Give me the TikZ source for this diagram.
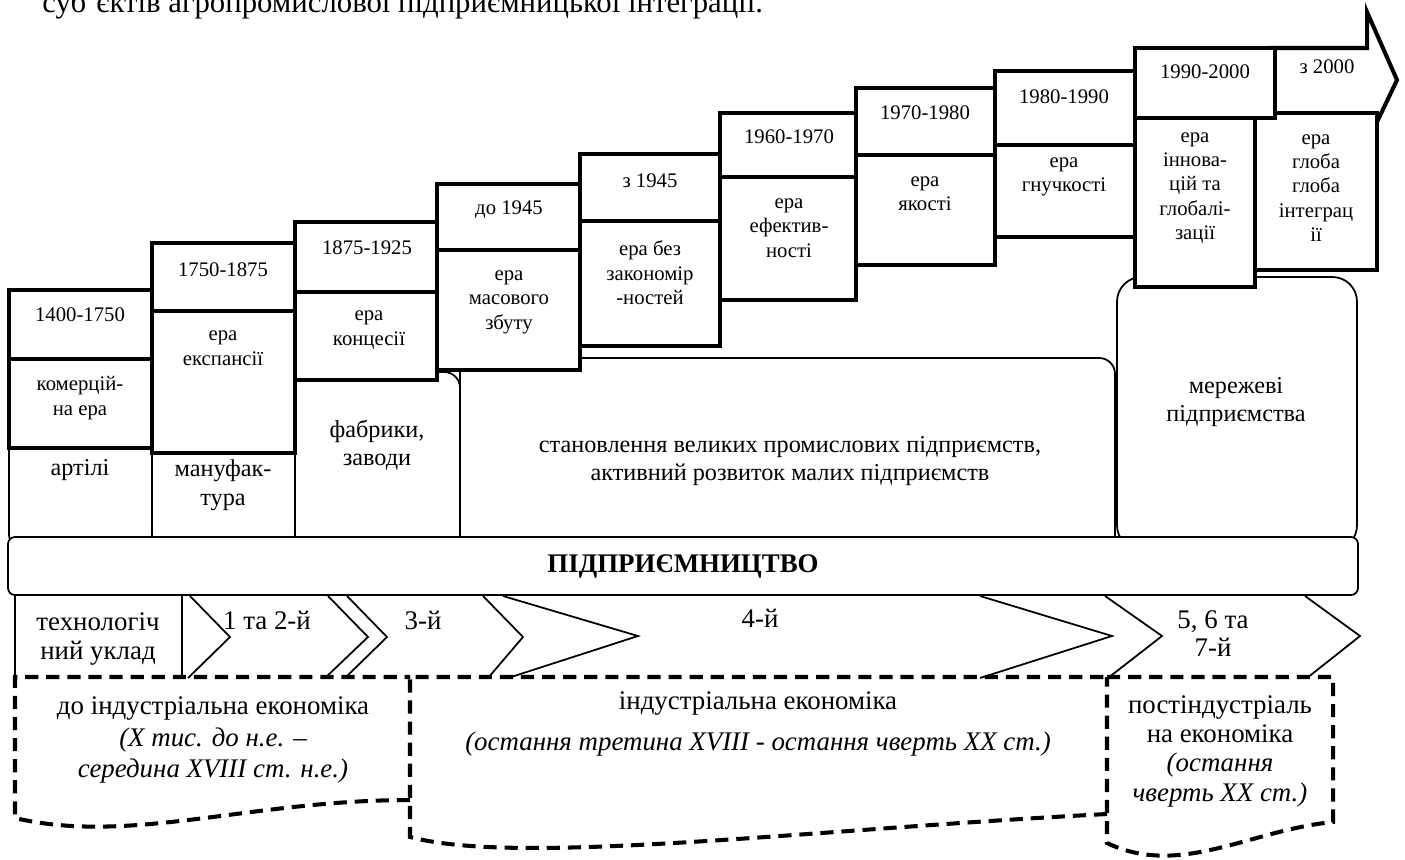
\documentclass[tikz,border=0pt]{standalone}
\usepackage{fontspec}
\setmainfont{Liberation Serif}
\tikzset{
  thickbox/.style={draw, line width=2.3pt, fill=white},
  thinbox/.style={draw, line width=1pt, fill=white, rounded corners=9pt},
  chev/.style={draw, line width=1pt},
  dashbox/.style={draw, line width=2.3pt, dash pattern=on 7.5pt off 4.5pt},
  upper/.style={font=\fontsize{11.8}{13.9}\selectfont, align=center, inner sep=0pt},
  lower/.style={font=\fontsize{13.8}{16.2}\selectfont, align=center, inner sep=0pt},
  bottom/.style={font=\fontsize{15.3}{16}\selectfont, align=center, inner sep=0pt},
  barlabel/.style={font=\fontsize{15.3}{16}\selectfont\bfseries, inner sep=0pt},
}
\begin{document}
\begin{tikzpicture}[x=0.02cm, y=-0.02cm]
		\useasboundingbox (0,0) rectangle (1405,859);
		\fill[white] (0,0) rectangle (1405,859);
		\clip (0,0) rectangle (1405,859);
		\node[anchor=base west, inner sep=0pt, font=\fontsize{17.5}{20}\selectfont] (Title) at (42,12) {суб’єктів агропромислової підприємницької інтеграції.};
		% Enterprises
		\draw[thinbox] (9,420) rectangle (152,550);
		\draw[thinbox] (152,420) rectangle (295,550);
		\draw[thinbox] (295,372) rectangle (460,550);
		\draw[thinbox] (460,358) rectangle (1115,550);
		\draw[thinbox, rounded corners=14pt] (1117,277) rectangle (1357,550);
		\node[lower] (Artili) at (80,470) {артілі};
		\node[lower] (Manufaktura) at (223,485) {мануфак-\\тура};
		\node[lower] (Fabryky) at (377,445) {фабрики,\\заводи};
		\node[lower] (Stanovlennia) at (790,461) {становлення великих промислових підприємств,\\активний розвиток малих підприємств};
		\node[lower] (Merezhevi) at (1236,402) {мережеві\\підприємства};
		% Eras
		\draw[thickbox] (9,359) rectangle (152,448);
		\draw[thickbox] (9,290) rectangle (152,359);
		\node[upper] (Year 1) at (80,315) {1400-1750};
		\node[upper] (Era 1) at (80,398) {комерцій-\\на ера};
		\draw[thickbox] (152,311) rectangle (295,453);
		\draw[thickbox] (152,243) rectangle (295,311);
		\node[upper] (Year 2) at (223,270) {1750-1875};
		\node[upper] (Era 2) at (223,348) {ера\\експансії};
		\draw[thickbox] (295,292) rectangle (437,380);
		\draw[thickbox] (295,222) rectangle (437,292);
		\node[upper] (Year 3) at (367,248) {1875-1925};
		\node[upper] (Era 3) at (369,330) {ера\\концесії};
		\draw[thickbox] (437,250) rectangle (580,370);
		\draw[thickbox] (437,184) rectangle (580,250);
		\node[upper] (Year 4) at (509,210) {до 1945};
		\node[upper] (Era 4) at (509,302) {ера\\масового\\збуту};
		\draw[thickbox] (580,221) rectangle (720,346);
		\draw[thickbox] (580,154) rectangle (720,221);
		\node[upper] (Year 5) at (650,181) {з 1945};
		\node[upper] (Era 5) at (650,273) {ера без\\закономір\\-ностей};
		\draw[thickbox] (720,177) rectangle (856,300);
		\draw[thickbox] (720,113) rectangle (856,177);
		\node[upper] (Year 6) at (789,137) {1960-1970};
		\node[upper] (Era 6) at (789,228) {ера\\ефектив-\\ності};
		\draw[thickbox] (856,155) rectangle (995,265);
		\draw[thickbox] (856,88) rectangle (995,155);
		\node[upper] (Year 7) at (925,113) {1970-1980};
		\node[upper] (Era 7) at (925,194) {ера\\якості};
		\draw[thickbox] (995,145) rectangle (1135,237);
		\draw[thickbox] (995,71) rectangle (1135,145);
		\node[upper] (Year 8) at (1064,97) {1980-1990};
		\node[upper] (Era 8) at (1064,177) {ера\\гнучкості};
		\draw[thickbox] (1270,48) -- (1367,48) -- (1367,12) -- (1397,80) -- (1377,122) -- (1270,122) -- cycle;
		\draw[thickbox] (1255,113) rectangle (1377,270);
		\draw[thickbox] (1135,48) rectangle (1275,118);
		\draw[thickbox] (1135,118) rectangle (1255,287);
		\node[upper] (Year 9) at (1205,72) {1990-2000};
		\node[upper] (Era 9) at (1195,188) {ера\\іннова-\\цій та\\глобалі-\\зації};
		\node[upper] (Year 10) at (1327,67) {з 2000};
		\node[upper] (Era 10) at (1316,188) {ера\\глоба\\глоба\\інтеграц\\ії};
		% Bar
		\draw[draw, line width=1pt, fill=white, rounded corners=4pt] (8,537) rectangle (1358,595);
		\node[barlabel] (Pidpryiemnytstvo) at (683,566) {ПІДПРИЄМНИЦТВО};
		% Technological modes
		\draw[chev] (15,595) -- (15,678);
		\draw[chev] (182,595) -- (182,678);
		\node[bottom] (Uklad) at (98,639) {технологіч\\ний уклад};
		\draw[chev] (190,596) -- (230,637) -- (188,678);
		\draw[chev] (328,596) -- (368,637) -- (325,678);
		\draw[chev] (347,596) -- (387,637) -- (345,678);
		\draw[chev] (483,596) -- (523,637) -- (488,678);
		\draw[chev] (503,596) -- (638,636) -- (508,678);
		\draw[chev] (980,596) -- (1112,636) -- (980,678);
		\draw[chev] (1105,596) -- (1162,636) -- (1108,678);
		\draw[chev] (1305,596) -- (1360,636) -- (1307,678);
		\node[bottom] (Mode 1) at (267,620) {1 та 2-й};
		\node[bottom] (Mode 2) at (423,620) {3-й};
		\node[bottom] (Mode 3) at (760,618) {4-й};
		\node[bottom] (Mode 4) at (1213,634) {5, 6 та\\7-й};
		% Economies
		\draw[dashbox] (410,800) .. controls (250,800) and (130,845) .. (15,818) -- (15,677) -- (410,677);
		\draw[dashbox] (1107,814) .. controls (800,830) and (520,866) .. (410,837) -- (410,677) -- (1107,677);
		\draw[dashbox] (1107,677) -- (1333,677) -- (1333,822) .. controls (1250,830) and (1180,878) .. (1107,843) -- cycle;
		\node[bottom] (Pre) at (213,740) {до індустріальна економіка\\[2pt]\itshape (X тис. до н.е. –\\[2pt]\itshape середина XVIII ст. н.е.)};
		\node[bottom] (Industrial) at (758,724) {індустріальна економіка\\[7.8pt]\itshape (остання третина XVIII - остання чверть XX ст.)};
		\node[bottom] (Post) at (1220,751) {постіндустріаль\\[0.7pt]на економіка\\[0.7pt]\itshape (остання\\[0.7pt]\itshape чверть XX ст.)};
	\end{tikzpicture}
\end{document}
